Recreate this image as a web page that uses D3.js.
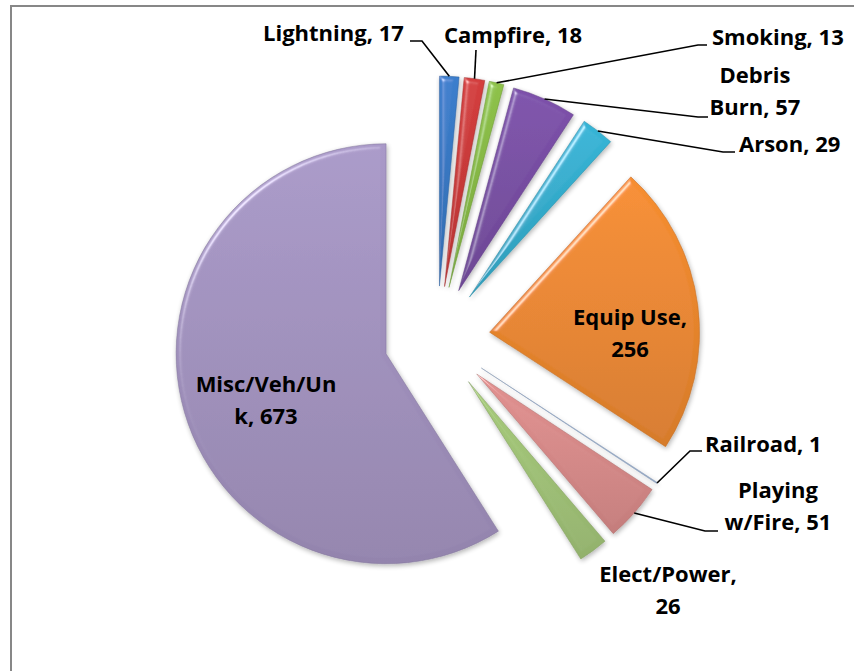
<!DOCTYPE html>
<html>
<head>
<meta charset="utf-8">
<script src="https://cdn.jsdelivr.net/npm/d3@7"></script>
<style>
  html, body { margin: 0; padding: 0; background: #fff; }
  svg { display: block; }
</style>
</head>
<body>
<svg></svg>
<script>
'use strict'

// data
const categories = ['Lightning', 'Campfire', 'Smoking', 'Debris Burn', 'Arson', 'Equip Use',
  'Railroad', 'Playing w/Fire', 'Elect/Power', 'Misc/Veh/Unk']
const values = [17, 18, 13, 57, 29, 256, 1, 51, 26, 673]
const colors = ['#3a7cc9', '#d03c3c', '#8bbf48', '#7b50a8', '#35b2d3', '#f38b2f',
  '#a9c1e2', '#de8e8d', '#a5c87a', '#a696c4']

// where the labels sit (Excel labels were placed by hand)
const labelLayout = {
  'Lightning': { x: 263, y: 41, anchor: 'start', leader: [[422, 41], [410, 41]] },
  'Campfire': { x: 444, y: 43, anchor: 'start', leader: [[476, 50]] },
  'Smoking': { x: 712, y: 45, anchor: 'start', leader: [[698, 45], [707, 45]] },
  'Debris Burn': { x: 755, y: 83, anchor: 'middle', wrap: 6, leader: [[698, 117], [708, 117]] },
  'Arson': { x: 739, y: 152, anchor: 'start', leader: [[723, 152], [735, 152]] },
  'Equip Use': { x: 630, y: 325, anchor: 'middle', wrap: 10 },
  'Railroad': { x: 705, y: 452, anchor: 'start', leader: [[690, 451], [702, 451]] },
  'Playing w/Fire': { x: 778, y: 498, anchor: 'middle', wrap: 7, leader: [[705, 531], [718, 531]] },
  'Elect/Power': { x: 668, y: 582, anchor: 'middle', wrap: 12 },
  'Misc/Veh/Unk': { x: 266, y: 392, anchor: 'middle', wrap: 11 }
}

const width = 854
const height = 671
const cx = 437
const cy = 339
const radius = 210
const explode = 53
const lineHeight = 32

const svg = d3.select('svg')
  .attr('width', width)
  .attr('height', height)
  .attr('font-family', '"Open Sans", Lato, sans-serif')
  .attr('font-weight', 'bold')
  .attr('font-size', 22)

// chart border (only top and left edges are inside the picture)
svg.append('rect')
  .attr('x', 11).attr('y', 6)
  .attr('width', 870).attr('height', 700)
  .attr('fill', '#fff')
  .attr('stroke', '#878787')
  .attr('stroke-width', 2)

const defs = svg.append('defs')

// soft bevel + shadow, roughly like the office look
const filter = defs.append('filter')
  .attr('id', 'bevel')
  .attr('x', '-20%').attr('y', '-20%')
  .attr('width', '140%').attr('height', '140%')
filter.append('feGaussianBlur').attr('in', 'SourceAlpha').attr('stdDeviation', 2.5).attr('result', 'blur')
filter.append('feSpecularLighting')
  .attr('in', 'blur').attr('surfaceScale', 4)
  .attr('specularConstant', 0.5).attr('specularExponent', 30)
  .attr('lighting-color', '#ffffff').attr('result', 'spec')
  .append('feDistantLight').attr('azimuth', 225).attr('elevation', 35)
filter.append('feComposite').attr('in', 'spec').attr('in2', 'SourceAlpha')
  .attr('operator', 'in').attr('result', 'specIn')
filter.append('feComposite').attr('in', 'SourceGraphic').attr('in2', 'specIn')
  .attr('operator', 'arithmetic')
  .attr('k1', 0).attr('k2', 1).attr('k3', 1).attr('k4', 0).attr('result', 'lit')
filter.append('feGaussianBlur').attr('in', 'SourceAlpha').attr('stdDeviation', 2.5).attr('result', 'sblur')
filter.append('feOffset').attr('in', 'sblur').attr('dx', 1).attr('dy', 2).attr('result', 'soff')
filter.append('feComponentTransfer').attr('in', 'soff').attr('result', 'shadow')
  .append('feFuncA').attr('type', 'linear').attr('slope', 0.3)
const merge = filter.append('feMerge')
merge.append('feMergeNode').attr('in', 'shadow')
merge.append('feMergeNode').attr('in', 'lit')

const data = categories.map((name, i) => ({ name, value: values[i], color: colors[i] }))

data.forEach((d, i) => {
  const base = d3.color(d.color)
  const grad = defs.append('linearGradient')
    .attr('id', 'grad' + i)
    .attr('x1', 0).attr('y1', 0).attr('x2', 0).attr('y2', 1)
  grad.append('stop').attr('offset', '0%').attr('stop-color', base.brighter(0.05))
  grad.append('stop').attr('offset', '100%').attr('stop-color', base.darker(0.35))
})

const pie = d3.pie()
  .value(d => d.value)
  .sort(null)

const arcs = pie(data)

const arc = d3.arc()
  .innerRadius(0)
  .outerRadius(radius)

// unit vector pointing at the middle of a slice (0 = 12 o'clock, clockwise)
function midDir (d) {
  const a = (d.startAngle + d.endAngle) / 2
  return [Math.sin(a), -Math.cos(a)]
}

const slices = svg.append('g')
  .attr('transform', `translate(${cx},${cy})`)

slices.selectAll('path')
  .data(arcs)
  .enter().append('path')
  .attr('transform', d => {
    const [ux, uy] = midDir(d)
    return `translate(${ux * explode},${uy * explode})`
  })
  .attr('d', arc)
  .attr('fill', (d, i) => `url(#grad${i})`)
  .attr('stroke', d => d3.color(d.data.color).darker(0.7))
  .attr('stroke-opacity', 0.5)
  .attr('stroke-width', 1)
  .attr('filter', 'url(#bevel)')

// leader lines from the outer edge of each slice
const line = d3.line()

arcs.forEach(d => {
  const lay = labelLayout[d.data.name]
  if (!lay.leader) return
  const [ux, uy] = midDir(d)
  const start = [cx + ux * (explode + radius), cy + uy * (explode + radius)]
  svg.append('path')
    .attr('d', line([start].concat(lay.leader)))
    .attr('fill', 'none')
    .attr('stroke', '#000')
    .attr('stroke-width', 1.6)
})

// labels
arcs.forEach(d => {
  const lay = labelLayout[d.data.name]
  const txt = `${d.data.name}, ${d.data.value}`
  const lines = lay.wrap ? [txt.slice(0, lay.wrap).trim(), txt.slice(lay.wrap).trim()] : [txt]
  const t = svg.append('text')
    .attr('text-anchor', lay.anchor)
    .attr('fill', '#000')
  lines.forEach((l, i) => {
    t.append('tspan')
      .attr('x', lay.x)
      .attr('y', lay.y + i * lineHeight)
      .text(l)
  })
})
</script>
</body>
</html>
